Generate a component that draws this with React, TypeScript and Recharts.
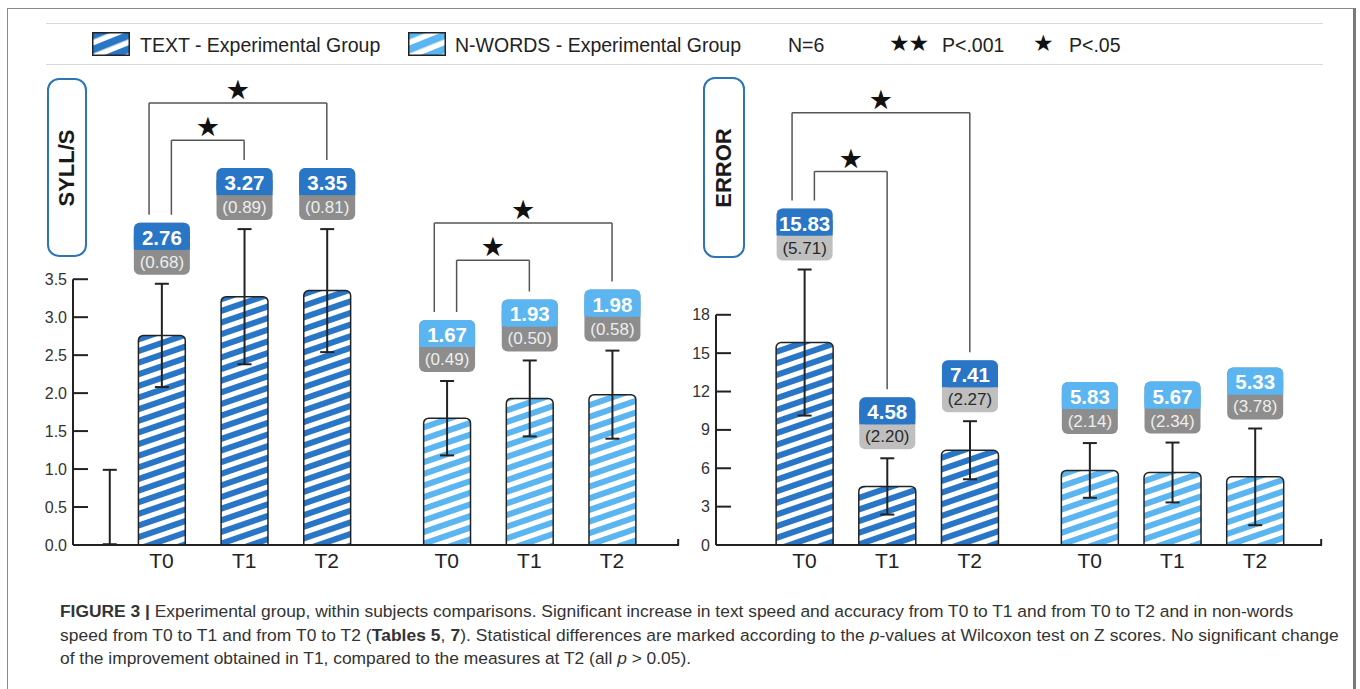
import React from 'react';
import { ComposedChart, Bar, Cell, ErrorBar, LabelList, XAxis, YAxis, ReferenceLine } from 'recharts';

const TIMES = ['T0', 'T1', 'T2'];

// SYLL/S panel (mean, sd)
const syllTextMean = [2.76, 3.27, 3.35];
const syllTextSd = [0.68, 0.89, 0.81];
const syllNwMean = [1.67, 1.93, 1.98];
const syllNwSd = [0.49, 0.5, 0.58];
const syllTicks = [0, 0.5, 1, 1.5, 2, 2.5, 3, 3.5];
// stray error bar with no bar, left of T0 in the original figure
const syllStray = { mean: 0.5, sd: 0.49 };

// ERROR panel (mean, sd)
const errTextMean = [15.83, 4.58, 7.41];
const errTextSd = [5.71, 2.2, 2.27];
const errNwMean = [5.83, 5.67, 5.33];
const errNwSd = [2.14, 2.34, 3.78];
const errTicks = [0, 3, 6, 9, 12, 15, 18];

// significance brackets: group (0 text, 1 non-words), from/to time index, bracket height in axis units
const syllSig = [
  { group: 0, from: 0, to: 1, level: 5.33 },
  { group: 0, from: 0, to: 2, level: 5.82 },
  { group: 1, from: 0, to: 1, level: 3.75 },
  { group: 1, from: 0, to: 2, level: 4.24 },
];
const errSig = [
  { group: 0, from: 0, to: 1, level: 29.2 },
  { group: 0, from: 0, to: 2, level: 33.8 },
];

const DARK = '#2a76c6';
const LIGHT = '#5bb5f1';
const INK = '#222';
const SANS = "'Liberation Sans', Arial, sans-serif";
const NARROW = "'Liberation Sans Narrow', 'Arial Narrow', 'Liberation Sans', Arial, sans-serif";
const STAR_FONT = "'DejaVu Sans', sans-serif";

// layout
const CHART_W = 700;
const CHART_H = 600;
const TOP = 59;
const PLOT_H = 486;
const X_MAX = 7.33;
const GROUP_START = [1.07, 4.52];
const STRAY_X = 0.44;
const BAR_W = 57;
const BOX_W = 56;
const BOX_H = 52;
const BOX_HEAD = 27;
const BOX_GAP = 9;
const LEG_GAP = 8;

type Row = { x: number; mean: number; sd: number; group: number; t: number };

function PatternDefs() {
  return (
    <svg width={0} height={0} style={{ position: 'absolute' }}>
      <defs>
        <pattern id="textStripes" patternUnits="userSpaceOnUse" width={10} height={11} patternTransform="rotate(-19)">
          <rect width={10} height={11} fill={DARK} />
          <rect y={6} width={10} height={5} fill="#fff" />
        </pattern>
        <pattern id="nwStripes" patternUnits="userSpaceOnUse" width={10} height={11} patternTransform="rotate(-19)">
          <rect width={10} height={11} fill={LIGHT} />
          <rect y={6} width={10} height={5} fill="#fff" />
        </pattern>
        <pattern id="textSwatch" patternUnits="userSpaceOnUse" width={10} height={13} patternTransform="rotate(-22)">
          <rect width={10} height={13} fill={DARK} />
          <rect y={7.5} width={10} height={5.5} fill="#fff" />
        </pattern>
        <pattern id="nwSwatch" patternUnits="userSpaceOnUse" width={10} height={13} patternTransform="rotate(-22)">
          <rect width={10} height={13} fill={LIGHT} />
          <rect y={7.5} width={10} height={5.5} fill="#fff" />
        </pattern>
      </defs>
    </svg>
  );
}

function ValueBox(props: any, rows: Row[], sdStyle: (g: number) => { fill: string; color: string }) {
  const vb = props.viewBox || props;
  const { x, y, width, height } = vb;
  const row = rows[props.index];
  if (!row || row.group < 0) return null;
  const ppu = height / row.mean;
  const capY = y - row.sd * ppu;
  const top = capY - BOX_GAP - BOX_H;
  const cx = x + width / 2;
  const bx = cx - BOX_W / 2;
  const foot = sdStyle(row.group);
  const head = row.group ? LIGHT : DARK;
  return (
    <g>
      <rect x={bx} y={top} width={BOX_W} height={BOX_H} rx={6} fill={foot.fill} />
      <rect x={bx} y={top} width={BOX_W} height={BOX_HEAD} rx={6} fill={head} />
      <rect x={bx} y={top + 12} width={BOX_W} height={BOX_HEAD - 12} fill={head} />
      <text x={cx} y={top + 14.5} textAnchor="middle" dominantBaseline="central" fontSize={20.5} fontWeight="bold" fill="#fff" fontFamily={SANS}>
        {row.mean.toFixed(2)}
      </text>
      <text x={cx} y={top + BOX_HEAD + 12.5} textAnchor="middle" dominantBaseline="central" fontSize={17} fill={foot.color} fontFamily={SANS}>
        ({row.sd.toFixed(2)})
      </text>
    </g>
  );
}

function YTick(props: any, digits: number) {
  const { x, y, payload } = props;
  return (
    <g>
      <line x1={x + 6} x2={x + 21} y1={y} y2={y} stroke={INK} strokeWidth={2} />
      <text x={x} y={y} textAnchor="end" dominantBaseline="central" fontSize={16} fill="#333" fontFamily={NARROW}>
        {payload.value.toFixed(digits)}
      </text>
    </g>
  );
}

function Panel(props: {
  left: number;
  yAxisW: number;
  yMax: number;
  ticks: number[];
  digits: number;
  textMean: number[];
  textSd: number[];
  nwMean: number[];
  nwSd: number[];
  stray?: { mean: number; sd: number };
  sig: { group: number; from: number; to: number; level: number }[];
  sdStyle: (g: number) => { fill: string; color: string };
}) {
  const { left, yAxisW, yMax, ticks, digits, stray, sig, sdStyle } = props;
  const rows: Row[] = [];
  if (stray) rows.push({ x: STRAY_X, mean: stray.mean, sd: stray.sd, group: -1, t: -1 });
  [props.textMean, props.nwMean].forEach((means, g) =>
    means.forEach((m, t) => rows.push({ x: GROUP_START[g] + t, mean: m, sd: (g ? props.nwSd : props.textSd)[t], group: g, t }))
  );
  const ppu = PLOT_H / yMax;
  const xTicks = rows.filter((r) => r.group >= 0).map((r) => r.x);
  const timeAt = (v: number) => {
    const r = rows.find((row) => row.group >= 0 && Math.abs(row.x - v) < 1e-6);
    return r ? TIMES[r.t] : '';
  };
  const legEnd = (g: number, t: number) => {
    const r = rows.find((row) => row.group === g && row.t === t)!;
    return r.mean + r.sd + (BOX_GAP + BOX_H + LEG_GAP) / ppu;
  };
  const bracketStroke = { stroke: '#555', strokeWidth: 1.5 };

  return (
    <div style={{ position: 'absolute', left, top: 0 }}>
      <ComposedChart width={CHART_W} height={CHART_H} data={rows} margin={{ top: TOP, right: CHART_W - yAxisW - 606, bottom: 25, left: 0 }}>
        <XAxis
          type="number"
          dataKey="x"
          domain={[0, X_MAX]}
          ticks={xTicks}
          interval={0}
          allowDataOverflow
          tickFormatter={timeAt}
          height={30}
          axisLine={{ stroke: INK, strokeWidth: 2 }}
          tickLine={false}
          tick={{ fontSize: 21, fill: INK, fontFamily: NARROW }}
        />
        <YAxis
          type="number"
          domain={[0, yMax]}
          ticks={ticks}
          interval={0}
          allowDataOverflow
          width={yAxisW}
          axisLine={false}
          tickLine={false}
          tickSize={0}
          tickMargin={6}
          tick={(p: any) => YTick(p, digits)}
        />
        <ReferenceLine segment={[{ x: 0, y: 0 }, { x: 0, y: ticks[ticks.length - 1] }]} stroke={INK} strokeWidth={2} />
        <ReferenceLine segment={[{ x: X_MAX - 0.01, y: 0 }, { x: X_MAX - 0.01, y: 6 / ppu }]} stroke={INK} strokeWidth={2} />
        <Bar dataKey="mean" barSize={BAR_W} radius={[5, 5, 0, 0]} isAnimationActive={false}>
          {rows.map((r, i) => (
            <Cell
              key={i}
              fill={r.group < 0 ? 'none' : `url(#${r.group ? 'nwStripes' : 'textStripes'})`}
              stroke={r.group < 0 ? 'none' : INK}
              strokeWidth={1.5}
            />
          ))}
          <ErrorBar dataKey="sd" width={7} stroke={INK} strokeWidth={2} direction="y" />
          <LabelList dataKey="mean" content={(p: any) => ValueBox(p, rows, sdStyle)} />
        </Bar>
        {sig.map((b, i) => {
          const xl = GROUP_START[b.group] + b.from + (b.to - b.from > 1 ? -0.15 : 0.12);
          const xr = GROUP_START[b.group] + b.to;
          return (
            <React.Fragment key={i}>
              <ReferenceLine segment={[{ x: xl, y: legEnd(b.group, b.from) }, { x: xl, y: b.level }]} {...bracketStroke} />
              <ReferenceLine
                segment={[{ x: xl, y: b.level }, { x: xr, y: b.level }]}
                {...bracketStroke}
                label={{ value: '★', position: 'top', offset: 4, fill: '#111', fontSize: 27, fontFamily: STAR_FONT }}
              />
              <ReferenceLine segment={[{ x: xr, y: b.level }, { x: xr, y: legEnd(b.group, b.to) }]} {...bracketStroke} />
            </React.Fragment>
          );
        })}
      </ComposedChart>
    </div>
  );
}

function AxisTitle({ left, top, w, h, text }: { left: number; top: number; w: number; h: number; text: string }) {
  return (
    <div
      style={{
        position: 'absolute',
        left,
        top,
        width: w,
        height: h,
        boxSizing: 'border-box',
        border: '2px solid #2e75b6',
        borderRadius: 12,
        background: '#fff',
      }}
    >
      <div
        style={{
          position: 'absolute',
          left: '50%',
          top: '50%',
          transform: 'translate(-50%, -50%) rotate(-90deg)',
          whiteSpace: 'nowrap',
          fontFamily: SANS,
          fontWeight: 'bold',
          fontSize: 22,
          color: '#1a1a1a',
        }}
      >
        {text}
      </div>
    </div>
  );
}

function Swatch({ left, id }: { left: number; id: string }) {
  return (
    <svg width={38} height={24} style={{ position: 'absolute', left, top: 32 }}>
      <rect x={0.75} y={0.75} width={36.5} height={22.5} fill={`url(#${id})`} stroke={INK} strokeWidth={1.5} />
    </svg>
  );
}

const legendText: React.CSSProperties = {
  position: 'absolute',
  top: 33,
  lineHeight: '24px',
  fontSize: 19.5,
  color: INK,
  whiteSpace: 'nowrap',
  fontFamily: SANS,
};

const legendStar: React.CSSProperties = {
  ...legendText,
  top: 31,
  fontFamily: STAR_FONT,
  fontSize: 23,
  letterSpacing: -1,
  color: '#111',
};

const captionLine: React.CSSProperties = {
  position: 'absolute',
  left: 60,
  whiteSpace: 'nowrap',
  fontSize: 17.4,
  lineHeight: '24px',
  color: '#333',
  fontFamily: NARROW,
};

export default function App() {
  return (
    <div style={{ position: 'absolute', left: 0, top: 0, width: 1360, height: 689, background: '#fff', overflow: 'hidden' }}>
      <PatternDefs />
      <div
        style={{
          position: 'absolute',
          left: 7,
          top: 8,
          width: 1349,
          height: 740,
          boxSizing: 'border-box',
          borderLeft: '1.5px solid #8a8a8a',
          borderTop: '1.5px solid #8a8a8a',
          borderRight: '3px solid #7a7a7a',
        }}
      />
      <div style={{ position: 'absolute', left: 46, top: 23, width: 1277, height: 1, background: '#dadada' }} />
      <div style={{ position: 'absolute', left: 46, top: 64, width: 1277, height: 1, background: '#dadada' }} />
      <Swatch left={92} id="textSwatch" />
      <div style={{ ...legendText, left: 140 }}>TEXT - Experimental Group</div>
      <Swatch left={408} id="nwSwatch" />
      <div style={{ ...legendText, left: 455 }}>N-WORDS - Experimental Group</div>
      <div style={{ ...legendText, left: 788 }}>N=6</div>
      <div style={{ ...legendStar, left: 889 }}>★★</div>
      <div style={{ ...legendText, left: 942 }}>P&lt;.001</div>
      <div style={{ ...legendStar, left: 1033 }}>★</div>
      <div style={{ ...legendText, left: 1069 }}>P&lt;.05</div>

      <Panel
        left={0}
        yAxisW={73}
        yMax={6.4}
        ticks={syllTicks}
        digits={1}
        textMean={syllTextMean}
        textSd={syllTextSd}
        nwMean={syllNwMean}
        nwSd={syllNwSd}
        stray={syllStray}
        sig={syllSig}
        sdStyle={() => ({ fill: '#8d8d8d', color: '#ededed' })}
      />
      <Panel
        left={640}
        yAxisW={76}
        yMax={38}
        ticks={errTicks}
        digits={0}
        textMean={errTextMean}
        textSd={errTextSd}
        nwMean={errNwMean}
        nwSd={errNwSd}
        sig={errSig}
        sdStyle={(g) => (g ? { fill: '#8d8d8d', color: '#ededed' } : { fill: '#bfbfbf', color: '#2a2a2a' })}
      />
      <AxisTitle left={47} top={78} w={40} h={179} text="SYLL/S" />
      <AxisTitle left={703} top={77} w={42} h={181} text="ERROR" />

      <div style={{ ...captionLine, top: 599 }}>
        <b>FIGURE 3 |</b> Experimental group, within subjects comparisons. Significant increase in text speed and accuracy from T0 to T1 and from T0 to T2 and in non-words
      </div>
      <div style={{ ...captionLine, top: 623, letterSpacing: 0.07 }}>
        speed from T0 to T1 and from T0 to T2 (<b>Tables 5</b>, <b>7</b>). Statistical differences are marked according to the <i>p</i>-values at Wilcoxon test on Z scores. No significant change
      </div>
      <div style={{ ...captionLine, top: 646 }}>
        of the improvement obtained in T1, compared to the measures at T2 (all <i>p</i> &gt; 0.05).
      </div>
    </div>
  );
}
